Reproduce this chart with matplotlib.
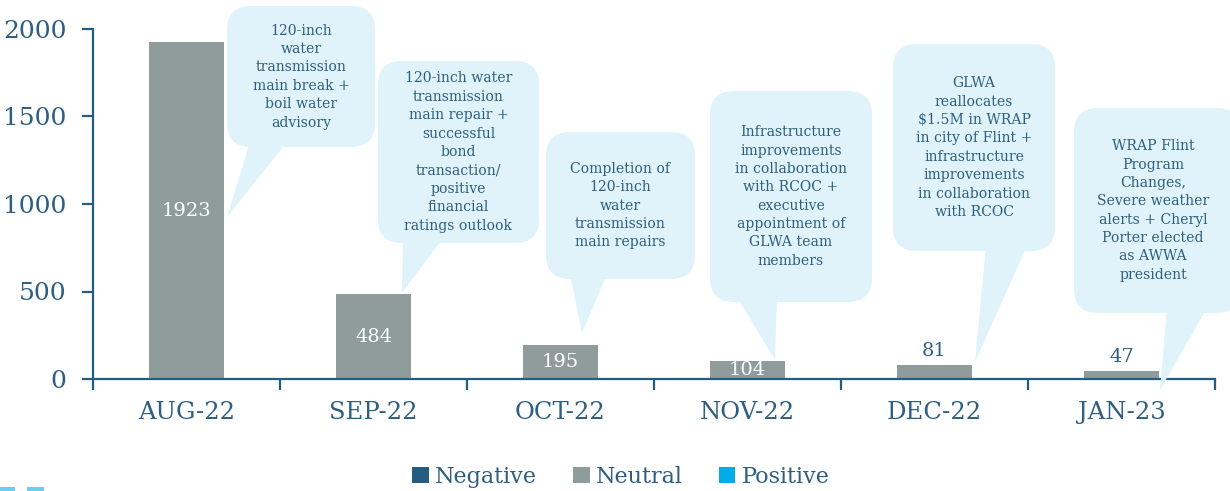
import matplotlib
matplotlib.use("Agg")
import matplotlib.pyplot as plt
from matplotlib.patches import FancyBboxPatch, Polygon, Patch, Rectangle

# ---------------- data ----------------
categories = ["AUG-22", "SEP-22", "OCT-22", "NOV-22", "DEC-22", "JAN-23"]
neutral = [1923, 484, 195, 104, 81, 47]
series_names = ["Negative", "Neutral", "Positive"]
callouts = [
    "120-inch\nwater\ntransmission\nmain break +\nboil water\nadvisory",
    "120-inch water\ntransmission\nmain repair +\nsuccessful\nbond\ntransaction/\npositive\nfinancial\nratings outlook",
    "Completion of\n120-inch\nwater\ntransmission\nmain repairs",
    "Infrastructure\nimprovements\nin collaboration\nwith RCOC +\nexecutive\nappointment of\nGLWA team\nmembers",
    "GLWA\nreallocates\n$1.5M in WRAP\nin city of Flint +\ninfrastructure\nimprovements\nin collaboration\nwith RCOC",
    "WRAP Flint\nProgram\nChanges,\nSevere weather\nalerts + Cheryl\nPorter elected\nas AWWA\npresident",
]

# ---------------- style ----------------
FONT = "DejaVu Serif"
DARK = "#245D81"
TEXT = "#2E5F80"
GREY = "#8F9C9B"
BRIGHT = "#00ADE8"
BUBBLE = "#E0F3FB"

W, H = 1230, 491
fig = plt.figure(figsize=(W / 100, H / 100), dpi=100)
ax = fig.add_axes([93 / W, (H - 379) / H, (1215 - 93) / W, 350 / H])

x = list(range(len(categories)))
bars = ax.bar(x, neutral, width=0.4, color=GREY, zorder=2)
ax.set_xlim(-0.5, len(categories) - 0.5)
ax.set_ylim(0, 2000)
ax.set_yticks([0, 500, 1000, 1500, 2000])

for s in ["top", "right"]:
    ax.spines[s].set_visible(False)
for s in ["left", "bottom"]:
    ax.spines[s].set_color(DARK)
    ax.spines[s].set_linewidth(1.6)

ax.tick_params(axis="y", colors=DARK, labelcolor=TEXT, length=8, width=1.6,
               labelsize=18, pad=11)
ax.set_yticklabels([str(v) for v in [0, 500, 1000, 1500, 2000]], family=FONT)
ax.set_xticks(x)
ax.set_xticklabels(categories, family=FONT, fontsize=17.5, color=TEXT)
ax.tick_params(axis="x", which="major", length=0, pad=16)
ax.set_xticks([i - 0.5 for i in range(len(categories) + 1)], minor=True)
ax.tick_params(axis="x", which="minor", length=8, width=1.6, color=DARK)

# data labels
for xi, v in zip(x, neutral):
    if v > 100:
        ax.text(xi, v / 2, str(v), ha="center", va="center", color="white",
                family=FONT, fontsize=14, zorder=3)
    else:
        ax.text(xi, v + 30, str(v), ha="center", va="bottom", color=TEXT,
                family=FONT, fontsize=14, zorder=3)

# legend
handles = [Patch(facecolor=c, edgecolor="none") for c in [DARK, GREY, BRIGHT]]
leg = fig.legend(handles, series_names, loc="center", bbox_to_anchor=(621 / W, (H - 477) / H),
                 ncol=3, frameon=False, prop={"family": FONT, "size": 16},
                 handlelength=0.75, handleheight=0.75, handletextpad=0.3, columnspacing=1.6)
for t in leg.get_texts():
    t.set_color(TEXT)

# ---------------- callout bubbles (pixel layout) ----------------
ov = fig.add_axes([0, 0, 1, 1], zorder=5)
ov.set_xlim(0, W)
ov.set_ylim(H, 0)
ov.axis("off")
ov.patch.set_alpha(0)

# (left, top, right, bottom), tail base x0, x1, tip (x, y)
layouts = [
    ((227, 6, 375, 147), (250, 287), (227, 217)),
    ((378, 61, 539, 243), (403, 443), (402, 293)),
    ((546, 132, 695, 279), (570, 607), (582, 333)),
    ((710, 91, 872, 302), (737, 777), (775, 360)),
    ((893, 44, 1055, 251), (986, 1027), (975, 362)),
    ((1074, 108, 1240, 313), (1167, 1207), (1160, 390)),
]
for txt, (box, base, tip) in zip(callouts, layouts):
    l, t, r, b = box
    ov.add_patch(FancyBboxPatch((l, t), r - l, b - t,
                                boxstyle="round,pad=0,rounding_size=24",
                                facecolor=BUBBLE, edgecolor="none"))
    ov.add_patch(Polygon([(base[0], b - 5), (base[1], b - 5), tip], closed=True,
                         facecolor=BUBBLE, edgecolor="none"))
    cx = (l + min(r, 1232)) / 2 if r > W else (l + r) / 2
    ov.text(cx, (t + b) / 2, txt,
            ha="center", va="center", color=TEXT, family=FONT, fontsize=10.1,
            linespacing=1.4)

# small cut-off marks at bottom left
ov.add_patch(Rectangle((0, 487), 15, 6, facecolor="#6CCDF2", edgecolor="none"))
ov.add_patch(Rectangle((27, 487), 17, 6, facecolor="#6CCDF2", edgecolor="none"))

fig.savefig("out.png", dpi=100)
